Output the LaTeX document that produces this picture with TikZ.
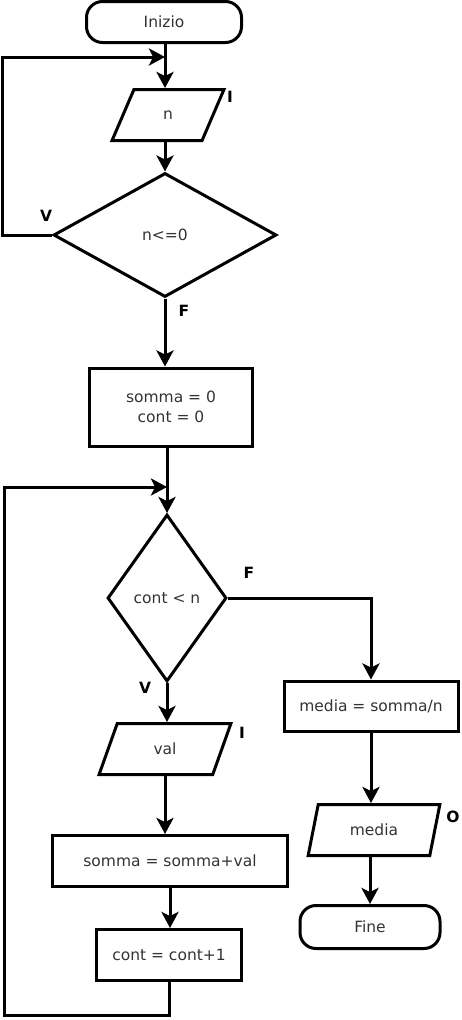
\documentclass[tikz,border=0pt]{standalone}
\usepackage{fontspec}
\setmainfont{DejaVu Sans}
\usetikzlibrary{arrows.meta,shapes.geometric}

\begin{document}
\begin{tikzpicture}[
x=1pt,
y=-1pt,
->,
>={Stealth[length=16pt,width=17pt,inset=4pt]},
line width=3pt,
every node/.style={text=black!80,
								font=\fontsize{15.5}{20}\selectfont},
term node/.style={draw,
								rectangle,
								rounded corners=16pt,
								inner sep=0pt},
io node/.style={draw,
								trapezium,
								trapezium left angle=70,
								trapezium right angle=110,
								trapezium stretches=true,
								minimum height=51pt,
								inner sep=0pt},
proc node/.style={draw,
								rectangle,
								align=center,
								inner sep=0pt},
dec node/.style={draw,
								diamond,
								inner sep=0pt},
lab node/.style={text=black,
								font=\fontsize{15.5}{20}\selectfont\bfseries}]
\useasboundingbox (0,0) rectangle (462,1020);
%Inizio
  \node[term node, minimum width=155pt, minimum height=41pt] (ini) at (164,22) {Inizio};
%n
  \node[io node, minimum width=112pt] (n) at (168,115) {n};
  \node[lab node] (lbn) at (230,97) {I};
%n<=0
  \node[dec node, minimum width=223pt, minimum height=124pt] (dec1) at (165,235) {n<=0};
  \node[lab node] (v1) at (46,216) {V};
  \node[lab node] (f1) at (184,311) {F};
%somma = 0
  \node[proc node, minimum width=163pt, minimum height=78pt] (box1) at (171,407) {somma = 0\\cont = 0};
%cont < n
  \node[dec node, minimum width=119pt, minimum height=167pt] (dec2) at (167,598) {cont < n};
  \node[lab node] (f2) at (249,573) {F};
  \node[lab node] (v2) at (145,688) {V};
%val
  \node[io node, minimum width=132pt] (val) at (165,749) {val};
  \node[lab node] (lbval) at (242,733) {I};
%somma = somma+val
  \node[proc node, minimum width=235pt, minimum height=51pt] (sum) at (170,861) {somma = somma+val};
%cont = cont+1
  \node[proc node, minimum width=145pt, minimum height=51pt] (cnt) at (169,955) {cont = cont+1};
%media = somma/n
  \node[proc node, minimum width=174pt, minimum height=50pt] (med) at (371,706) {media = somma/n};
%media
  \node[io node, minimum width=132pt] (out) at (374,830) {media};
  \node[lab node] (lbout) at (453,817) {O};
%Fine
  \node[term node, minimum width=140pt, minimum height=43pt] (fine) at (370,927) {Fine};
%joins
  \coordinate (j1) at (165,57);
  \coordinate (l1) at (2,235);
  \coordinate (j2) at (167,487);
  \coordinate (l2) at (4,1015);
%paths
  \draw (j1 |- ini.south) -- (j1 |- n.north);
  \draw (dec1 |- n.south) -- (dec1);
  \draw (dec1) -- (dec1 |- box1.north);
  \draw (dec1) -- (l1) |- (j1);
  \draw (dec2 |- box1.south) -- (dec2);
  \draw (dec2) -- (dec2 |- val.north);
  \draw (dec2) -| (med);
  \draw (val) -- (val |- sum.north);
  \draw (sum) -- (sum |- cnt.north);
  \draw (cnt) |- (l2) |- (j2);
  \draw (med) -- (med |- out.north);
  \draw (fine |- out.south) -- (fine);
\end{tikzpicture}
\end{document}
